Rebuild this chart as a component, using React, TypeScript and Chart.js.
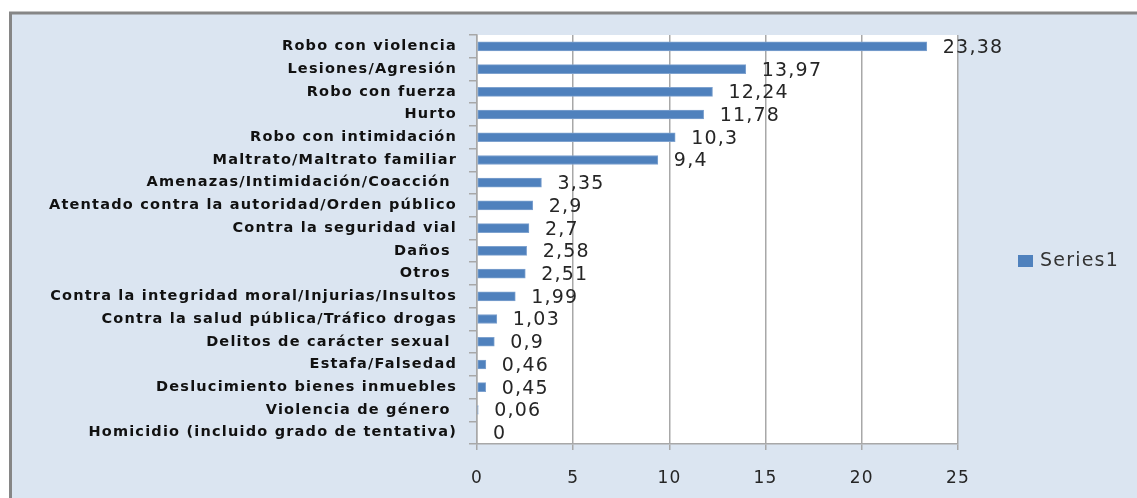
import React, { useEffect, useRef } from "react";
import { Chart, registerables } from "chart.js";

Chart.register(...registerables);

const categories: string[] = [
  "Robo con violencia",
  "Lesiones/Agresión",
  "Robo con fuerza",
  "Hurto",
  "Robo con intimidación",
  "Maltrato/Maltrato familiar",
  "Amenazas/Intimidación/Coacción ",
  "Atentado contra la autoridad/Orden público",
  "Contra la seguridad vial",
  "Daños ",
  "Otros ",
  "Contra la integridad moral/Injurias/Insultos",
  "Contra la salud pública/Tráfico drogas",
  "Delitos de carácter sexual ",
  "Estafa/Falsedad",
  "Deslucimiento bienes inmuebles",
  "Violencia de género ",
  "Homicidio (incluido grado de tentativa)",
];

const series1: number[] = [
  23.38, 13.97, 12.24, 11.78, 10.3, 9.4, 3.35, 2.9, 2.7, 2.58, 2.51, 1.99, 1.03,
  0.9, 0.46, 0.45, 0.06, 0,
];

const seriesName = "Series1";
const xTicks: number[] = [0, 5, 10, 15, 20, 25];

const BAR_COLOR = "#4f81bd";
const FRAME_BG = "#dbe5f1";
const GRID = "#a8a8a8";
const SPACING = "1.2px";

const framePlugin = {
  id: "frame",
  beforeDraw(chart: any) {
    const ctx = chart.ctx;
    const { chartArea } = chart;
    ctx.save();
    ctx.fillStyle = "#ffffff";
    ctx.fillRect(0, 0, chart.width, chart.height);
    ctx.fillStyle = FRAME_BG;
    ctx.fillRect(10.5, 13, chart.width + 20, chart.height + 20);
    ctx.strokeStyle = "#868686";
    ctx.lineWidth = 3;
    ctx.strokeRect(10.5, 13, chart.width + 20, chart.height + 20);
    ctx.fillStyle = "#ffffff";
    ctx.fillRect(
      chartArea.left,
      chartArea.top,
      chartArea.right - chartArea.left,
      chartArea.bottom - chartArea.top
    );
    ctx.restore();
    (ctx as any).letterSpacing = SPACING;
  },
  afterDatasetsDraw(chart: any) {
    const ctx = chart.ctx;
    const meta = chart.getDatasetMeta(0);
    const data = chart.data.datasets[0].data as number[];
    ctx.save();
    (ctx as any).letterSpacing = SPACING;
    ctx.font = "19px 'DejaVu Sans'";
    ctx.fillStyle = "#262626";
    ctx.textAlign = "left";
    ctx.textBaseline = "middle";
    meta.data.forEach((el: any, i: number) => {
      const label = String(data[i]).replace(".", ",");
      ctx.fillText(label, el.x + 16, el.y + 1.5);
    });
    ctx.restore();
  },
  afterDraw(chart: any) {
    const ctx = chart.ctx;
    ctx.save();
    (ctx as any).letterSpacing = SPACING;
    ctx.fillStyle = BAR_COLOR;
    ctx.fillRect(1018, 255, 15, 12);
    ctx.font = "19px 'DejaVu Sans'";
    ctx.fillStyle = "#333333";
    ctx.textAlign = "left";
    ctx.textBaseline = "middle";
    ctx.fillText(chart.data.datasets[0].label, 1040, 261);
    ctx.restore();
    (ctx as any).letterSpacing = "0px";
  },
};

export default function App() {
  const canvasRef = useRef<HTMLCanvasElement | null>(null);

  useEffect(() => {
    if (!canvasRef.current) return;
    const chart = new Chart(canvasRef.current, {
      type: "bar",
      data: {
        labels: categories,
        datasets: [
          {
            label: seriesName,
            data: series1,
            backgroundColor: BAR_COLOR,
            borderColor: "#7ea2cf",
            borderWidth: 1,
            borderSkipped: false,
            barThickness: 9,
          },
        ],
      },
      options: {
        indexAxis: "y",
        animation: false,
        responsive: false,
        layout: { padding: { top: 35, right: 179, bottom: 0, left: 0 } },
        plugins: {
          legend: { display: false },
          tooltip: { enabled: false },
        },
        scales: {
          x: {
            type: "linear",
            min: 0,
            max: 25,
            afterBuildTicks(scale: any) {
              scale.ticks = xTicks.map((v) => ({ value: v }));
            },
            afterFit(scale: any) {
              scale.height = 54;
            },
            ticks: {
              stepSize: 5,
              padding: 18,
              color: "#262626",
              font: { family: "'DejaVu Sans'", size: 17 },
            },
            grid: {
              color: GRID,
              lineWidth: 1.5,
              tickLength: 6,
            },
            border: { color: GRID, width: 1.5 },
          },
          y: {
            type: "category",
            afterFit(scale: any) {
              scale.width = 477;
            },
            ticks: {
              autoSkip: false,
              padding: 12,
              color: "#111111",
              font: { family: "'DejaVu Sans'", size: 14.5, weight: "bold" },
            },
            grid: {
              drawOnChartArea: false,
              drawTicks: true,
              tickLength: 8,
              color: GRID,
              lineWidth: 1.5,
            },
            border: { color: GRID, width: 1.5 },
          },
        },
      },
      plugins: [framePlugin],
    } as any);
    return () => chart.destroy();
  }, []);

  return (
    <div style={{ position: "absolute", left: 0, top: 0, width: 1137, height: 498 }}>
      <canvas ref={canvasRef} width={1137} height={498} />
    </div>
  );
}
